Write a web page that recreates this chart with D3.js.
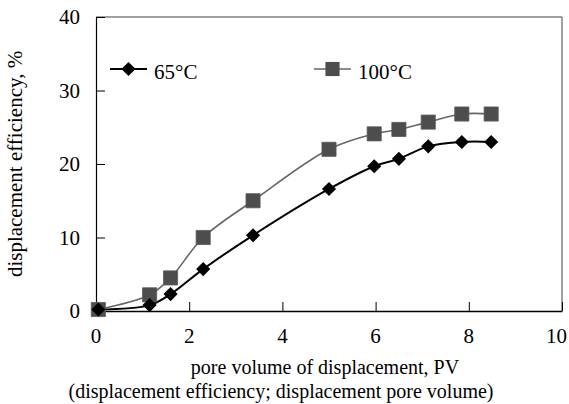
<!DOCTYPE html>
<html>
<head>
<meta charset="utf-8">
<script src="https://cdn.jsdelivr.net/npm/d3@7"></script>
<style>
    body { margin: 0; background: #fff; }
    svg text { font-family: "Liberation Serif", "Times New Roman", serif; fill: #000; }
</style>
</head>
<body>
<div id="chart"></div>
<script>
// values
const pv = [0.05, 1.15, 1.6, 2.3, 3.37, 5.0, 5.97, 6.5, 7.13, 7.85, 8.48]
const eff65 = [0.2, 0.8, 2.3, 5.7, 10.3, 16.6, 19.7, 20.7, 22.4, 23.0, 23.0]
const eff100 = [0.2, 2.2, 4.5, 10.0, 15.0, 22.0, 24.1, 24.7, 25.7, 26.8, 26.8]
const xTicks = [0, 2, 4, 6, 8, 10]
const yTicks = [0, 10, 20, 30, 40]
const seriesNames = ["65°C", "100°C"]

const width = 569, height = 404
const margin = { top: 17, right: 7, bottom: 93, left: 96 }

const svg = d3.select("#chart").append("svg")
    .attr("width", width)
    .attr("height", height)

const x = d3.scaleLinear().domain([0, 10]).range([margin.left, width - margin.right])
const y = d3.scaleLinear().domain([0, 40]).range([height - margin.bottom, margin.top])

// frame: gray top/right, black axes
svg.append("line")
    .attr("x1", x(0)).attr("x2", x(10)).attr("y1", y(40)).attr("y2", y(40))
    .attr("stroke", "#808080").attr("stroke-width", 1.5)
svg.append("line")
    .attr("x1", x(10)).attr("x2", x(10)).attr("y1", y(40)).attr("y2", y(0))
    .attr("stroke", "#808080").attr("stroke-width", 1.5)

// x axis, ticks inward
const xAxis = svg.append("g")
    .attr("transform", `translate(0,${y(0)})`)
    .call(d3.axisTop(x).tickValues(xTicks).tickSize(9).tickSizeOuter(0).tickFormat(""))
xAxis.select(".domain").attr("stroke", "#000").attr("stroke-width", 1.5)
xAxis.selectAll(".tick line").attr("stroke", "#000")

// last label is pulled in so it stays on the page
svg.append("g").selectAll("text")
    .data(xTicks)
    .join("text")
    .attr("x", d => d == 10 ? width - 2 : x(d))
    .attr("y", y(0) + 32)
    .attr("text-anchor", d => d == 10 ? "end" : "middle")
    .style("font-size", "21px")
    .text(d => d)

// y axis, ticks inward
const yAxis = svg.append("g")
    .attr("transform", `translate(${x(0)},0)`)
    .call(d3.axisRight(y).tickValues(yTicks).tickSize(9).tickSizeOuter(0).tickFormat(""))
yAxis.select(".domain").attr("stroke", "#000").attr("stroke-width", 1.2)
yAxis.selectAll(".tick line").attr("stroke", "#000")

svg.append("g").selectAll("text")
    .data(yTicks)
    .join("text")
    .attr("x", x(0) - 16)
    .attr("y", d => y(d) + 7)
    .attr("text-anchor", "end")
    .style("font-size", "21px")
    .text(d => d)

// axis titles
svg.append("text")
    .attr("transform", `translate(22,${(y(0) + y(40)) / 2}) rotate(-90)`)
    .attr("text-anchor", "middle")
    .style("font-size", "21px")
    .text("displacement efficiency, %")

svg.append("text")
    .attr("x", 325).attr("y", 374)
    .attr("text-anchor", "middle")
    .style("font-size", "20px")
    .text("pore volume of displacement, PV")

svg.append("text")
    .attr("x", 281).attr("y", 398)
    .attr("text-anchor", "middle")
    .style("font-size", "20px")
    .text("(displacement efficiency; displacement pore volume)")

// lines
const line = d3.line()
    .x(d => x(d[0]))
    .y(d => y(d[1]))
    .curve(d3.curveCatmullRom.alpha(0.5))

const d65 = pv.map((v, i) => [v, eff65[i]])
const d100 = pv.map((v, i) => [v, eff100[i]])

svg.append("path")
    .datum(d100)
    .attr("d", line)
    .attr("fill", "none")
    .attr("stroke", "#666")
    .attr("stroke-width", 1.6)

svg.append("path")
    .datum(d65)
    .attr("d", line)
    .attr("fill", "none")
    .attr("stroke", "#000")
    .attr("stroke-width", 2)

const square = d3.symbol().type(d3.symbolSquare).size(200)
const diamond = d3.symbol().type(d3.symbolSquare).size(100)

svg.append("g").selectAll("path")
    .data(d100)
    .join("path")
    .attr("transform", d => `translate(${x(d[0])},${y(d[1])})`)
    .attr("d", square)
    .attr("fill", "#4d4d4d")
    .attr("stroke", "#5a5a5a")
    .attr("stroke-width", 0.8)

svg.append("g").selectAll("path")
    .data(d65)
    .join("path")
    .attr("transform", d => `translate(${x(d[0])},${y(d[1])}) rotate(45)`)
    .attr("d", diamond)
    .attr("fill", "#000")

// legend
const legend = [
    { name: seriesNames[0], x0: 110, color: "#000", sw: 2, sym: diamond, rot: 45, fill: "#000" },
    { name: seriesNames[1], x0: 314, color: "#666", sw: 1.6, sym: square, rot: 0, fill: "#4d4d4d" }
]
const lg = svg.append("g").selectAll("g")
    .data(legend)
    .join("g")
    .attr("transform", d => `translate(${d.x0},69)`)
lg.append("line")
    .attr("x1", 0).attr("x2", 37)
    .attr("stroke", d => d.color)
    .attr("stroke-width", d => d.sw)
lg.append("path")
    .attr("transform", d => `translate(18.5,0) rotate(${d.rot})`)
    .attr("d", d => d.sym())
    .attr("fill", d => d.fill)
lg.append("text")
    .attr("x", 44).attr("y", 10)
    .style("font-size", "21px")
    .text(d => d.name)
</script>
</body>
</html>
